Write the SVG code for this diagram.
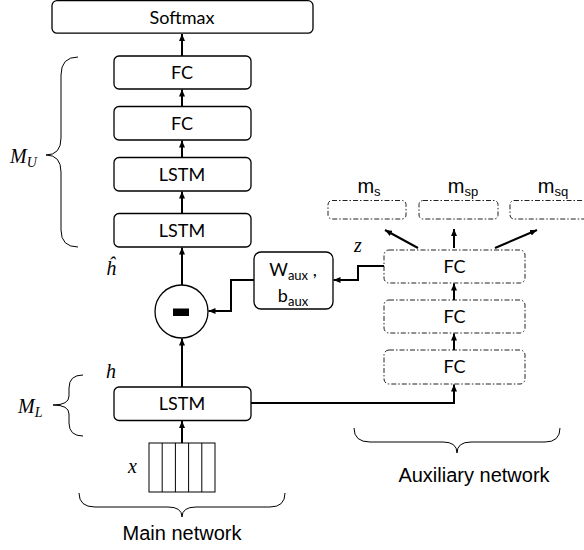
<svg xmlns="http://www.w3.org/2000/svg" width="584" height="550" viewBox="0 0 584 550">
<defs>
<marker id="ah" viewBox="0 0 7 6" refX="7" refY="3" markerWidth="7" markerHeight="6" markerUnits="userSpaceOnUse" orient="auto">
<path d="M0,0 L7,3 L0,6 z" fill="#000"/>
</marker>
<style>
.box{fill:#fff;stroke:#000;stroke-width:1.3}
.dbox{fill:#fff;stroke:#222;stroke-width:1;stroke-dasharray:5 2 1.5 2}
.lbl{font-family:Lato,"Open Sans","Liberation Sans",sans-serif;font-size:18px;fill:#000;text-anchor:middle}
.ar{font-family:"Liberation Sans",Arial,sans-serif;fill:#000}
.math{font-family:"Liberation Serif","DejaVu Serif",serif;font-style:italic;fill:#000}
.ln{fill:none;stroke:#000;stroke-width:2}
.brace{fill:none;stroke:#000;stroke-width:1}
</style>
</defs>

<g id="softmax"><rect class="box" x="52" y="0.7" width="261" height="32.5" rx="5"/><text class="lbl" x="182" y="23.5">Softmax</text></g>
<g id="fc-top1"><rect class="box" x="114" y="56" width="137" height="33" rx="5"/><text class="lbl" x="182" y="79">FC</text></g>
<g id="fc-top2"><rect class="box" x="114" y="106.5" width="137" height="33.5" rx="5"/><text class="lbl" x="182" y="129.5">FC</text></g>
<g id="lstm-u1"><rect class="box" x="114" y="157.5" width="137" height="33.5" rx="5"/><text class="lbl" x="182" y="180.5">LSTM</text></g>
<g id="lstm-u2"><rect class="box" x="114" y="213.5" width="137" height="33.5" rx="5"/><text class="lbl" x="182" y="236.5">LSTM</text></g>

<g id="minus"><circle cx="181.5" cy="311.5" r="26.5" fill="#fff" stroke="#000" stroke-width="1.3"/><rect x="173" y="308.5" width="16" height="7.5" fill="#000"/></g>

<g id="waux"><rect class="box" x="254" y="252" width="79" height="57" rx="7"/>
<text class="lbl" x="293" y="276"><tspan>W</tspan><tspan font-size="13" dy="4">aux</tspan><tspan dy="-4"> ,</tspan></text>
<text class="lbl" x="293" y="302"><tspan>b</tspan><tspan font-size="13" dy="4">aux</tspan></text></g>

<g id="lstm-l"><rect class="box" x="114" y="387" width="137" height="33.5" rx="5"/><text class="lbl" x="182" y="410">LSTM</text></g>

<g id="input-x"><rect x="149" y="443" width="66" height="49" fill="#fff" stroke="#000" stroke-width="1"/>
<path d="M162.2,443 V492 M175.4,443 V492 M188.6,443 V492 M201.8,443 V492" stroke="#000" stroke-width="1"/></g>

<g id="aux-fc1"><rect class="dbox" x="384" y="250" width="141" height="33" rx="5"/><text class="lbl" x="454.5" y="273">FC</text></g>
<g id="aux-fc2"><rect class="dbox" x="384" y="300" width="141" height="33" rx="5"/><text class="lbl" x="454.5" y="323">FC</text></g>
<g id="aux-fc3"><rect class="dbox" x="384" y="350" width="141" height="34" rx="5"/><text class="lbl" x="454.5" y="373">FC</text></g>

<g id="m-s"><rect class="dbox" x="328" y="200.5" width="78" height="18.5" rx="4"/><text class="ar" x="369" y="193" font-size="20" text-anchor="middle"><tspan>m</tspan><tspan font-size="13" dy="3">s</tspan></text></g>
<g id="m-sp"><rect class="dbox" x="419" y="200.5" width="79" height="18.5" rx="4"/><text class="ar" x="463" y="193" font-size="20" text-anchor="middle"><tspan>m</tspan><tspan font-size="13" dy="3">sp</tspan></text></g>
<g id="m-sq"><rect class="dbox" x="510" y="200.5" width="80" height="18.5" rx="4"/><text class="ar" x="553" y="193" font-size="20" text-anchor="middle"><tspan>m</tspan><tspan font-size="13" dy="3">sq</tspan></text></g>

<g id="connectors">
<path class="ln" d="M182,56 V34" marker-end="url(#ah)"/>
<path class="ln" d="M182,106.5 V89.5" marker-end="url(#ah)"/>
<path class="ln" d="M182,157.5 V140.5" marker-end="url(#ah)"/>
<path class="ln" d="M182,213.5 V191.5" marker-end="url(#ah)"/>
<path class="ln" d="M182,285 V247.5" marker-end="url(#ah)"/>
<path class="ln" d="M182,387 V338.5" marker-end="url(#ah)"/>
<path class="ln" d="M182,443 V421" marker-end="url(#ah)"/>
<path class="ln" d="M254,280 H231 V311 H208.5" marker-end="url(#ah)"/>
<path class="ln" d="M384,266 H358 V280 H333.5" marker-end="url(#ah)"/>
<path class="ln" d="M251,403 H454 V384.5" marker-end="url(#ah)"/>
<path class="ln" d="M454,350 V333.5" marker-end="url(#ah)"/>
<path class="ln" d="M454,300 V283.5" marker-end="url(#ah)"/>
<path class="ln" d="M418,248 L385,230" marker-end="url(#ah)"/>
<path class="ln" d="M454,248 V229" marker-end="url(#ah)"/>
<path class="ln" d="M495,248 L537,230" marker-end="url(#ah)"/>
</g>

<g id="braces">
<path class="brace" d="M78,57 Q61,57 61,75 L61,138 Q61,155 46,155 Q61,155 61,172 L61,230 Q61,247 78,247"/>
<path class="brace" d="M83,375 Q69,375 69,388 L69,396 Q69,405 53,405 Q69,405 69,414 L69,423 Q69,436 83,436"/>
<path class="brace" d="M79,493 Q79,507 95,507 L168,507 Q182,507 182,517 Q182,507 196,507 L270,507 Q285,507 285,493"/>
<path class="brace" d="M354,428 Q354,442 370,442 L443,442 Q457,442 457,453 Q457,442 471,442 L545,442 Q560,442 560,428"/>
</g>

<g id="labels">
<text class="math" x="10" y="163" font-size="20">M<tspan font-size="14" dy="4">U</tspan></text>
<text class="math" x="18" y="413" font-size="20">M<tspan font-size="14" dy="4">L</tspan></text>
<text class="math" x="106" y="275" font-size="20">ĥ</text>
<text class="math" x="106" y="378" font-size="20">h</text>
<text class="math" x="128" y="473" font-size="20">x</text>
<text class="math" x="354" y="252" font-size="20">z</text>
<text class="ar" x="182" y="540" font-size="20" text-anchor="middle">Main network</text>
<text class="ar" x="474" y="482" font-size="20" text-anchor="middle">Auxiliary network</text>
</g>
</svg>
